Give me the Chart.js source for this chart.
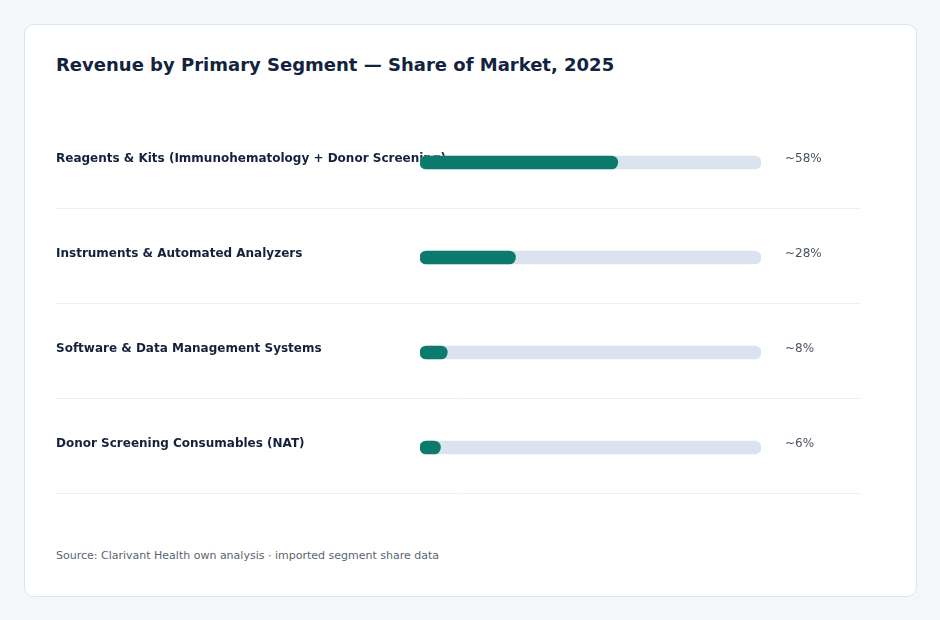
<!DOCTYPE html>
<html>
<head>
<meta charset="utf-8">
<script src="https://cdn.jsdelivr.net/npm/chart.js@4"></script>
<style>
  body{margin:0;background:#f4f7fa;font-family:"DejaVu Sans",sans-serif;width:940px;height:620px;overflow:hidden}
  .card{position:absolute;left:24px;top:24px;width:891px;height:571px;background:#fff;border:1px solid #dde3ea;border-radius:10px}
  .title{position:absolute;left:31px;top:29px;font-size:18px;font-weight:bold;color:#13233f;white-space:nowrap}
  .chart-box{position:absolute;left:31px;top:90px;width:805px;height:380px}
  .source{position:absolute;left:31px;top:524px;font-size:11px;color:#5a6472;white-space:nowrap}
</style>
</head>
<body>
<div class="card">
  <div class="title">Revenue by Primary Segment — Share of Market, 2025</div>
  <div class="chart-box"><canvas class="canvas"></canvas></div>
  <div class="source">Source: Clarivant Health own analysis · imported segment share data</div>
</div>
<script>
const segments = [
  'Reagents & Kits (Immunohematology + Donor Screening)',
  'Instruments & Automated Analyzers',
  'Software & Data Management Systems',
  'Donor Screening Consumables (NAT)'
];
const shares = [58, 28, 8, 6];
const shareLabels = ['~58%', '~28%', '~8%', '~6%'];
const scaleMax = 100;
const track = [scaleMax, scaleMax, scaleMax, scaleMax];

// row labels + separators go under the bars, value text on the right
const rowText = {
  id: 'rowText',
  beforeDatasetsDraw(chart) {
    let ctx = chart.ctx
    let y = chart.scales.y
    ctx.save()
    segments.forEach((name, i) => {
      let cy = y.getPixelForValue(i)
      ctx.strokeStyle = '#edf0f4'
      ctx.lineWidth = 1
      ctx.beginPath()
      ctx.moveTo(0, Math.round(cy + 45.5) + 0.5)
      ctx.lineTo(chart.width, Math.round(cy + 45.5) + 0.5)
      ctx.stroke()
      ctx.fillStyle = '#14213d'
      ctx.font = 'bold 12px "DejaVu Sans"'
      ctx.textBaseline = 'middle'
      ctx.fillText(name, 0, cy - 3.5)
    })
    ctx.restore()
  },
  afterDatasetsDraw(chart) {
    let ctx = chart.ctx
    let y = chart.scales.y
    ctx.save()
    ctx.fillStyle = '#4a5361'
    ctx.font = '12px "DejaVu Sans"'
    ctx.textBaseline = 'middle'
    shareLabels.forEach((t, i) => {
      ctx.fillText(t, chart.chartArea.right + 24, y.getPixelForValue(i) - 3.5)
    })
    ctx.restore()
  }
}

const config = {
  type: 'bar',
  data: {
    labels: segments,
    datasets: [{
      data: shares,
      backgroundColor: '#0c7b6e',
      barThickness: 13,
      borderRadius: 7,
      borderSkipped: false,
      grouped: false,
      order: 0
    }, {
      data: track,
      backgroundColor: '#dbe4ee',
      barThickness: 13,
      borderRadius: 7,
      borderSkipped: false,
      grouped: false,
      order: 1
    }]
  },
  options: {
    indexAxis: 'y',
    responsive: true,
    maintainAspectRatio: false,
    animation: false,
    layout: { padding: { left: 364, right: 100, top: 0, bottom: 0 } },
    scales: {
      x: { display: false, min: 0, max: scaleMax },
      y: { display: false }
    },
    plugins: {
      legend: { display: false },
      tooltip: { enabled: false }
    }
  },
  plugins: [rowText]
};

let canvas = document.querySelector('.canvas')
new Chart(canvas, config)
</script>
</body>
</html>
